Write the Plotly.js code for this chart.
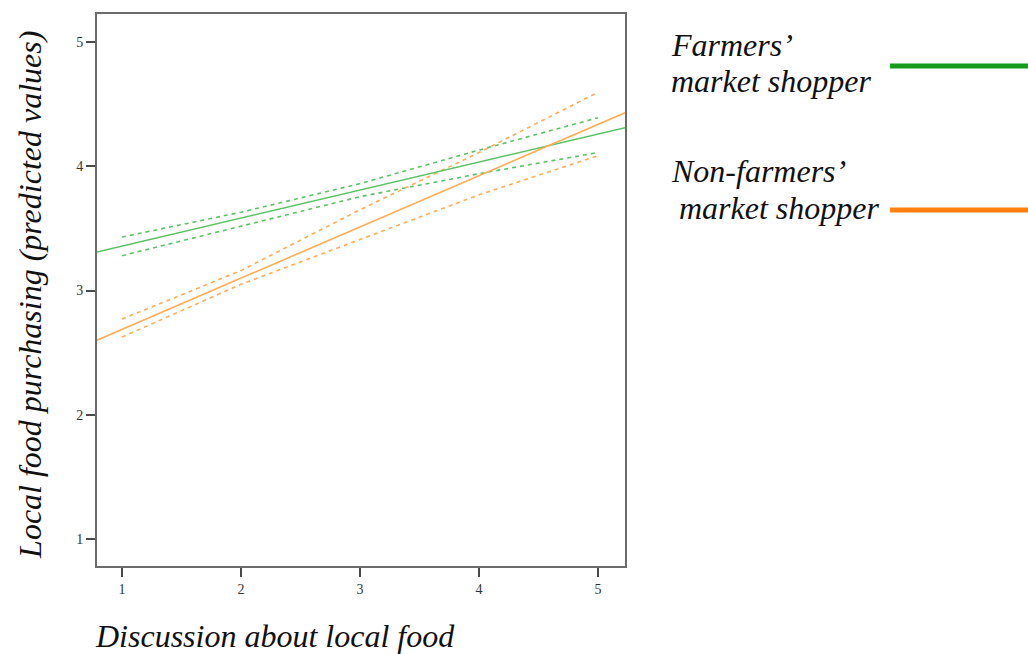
<!DOCTYPE html>
<html>
<head>
<meta charset="utf-8">
<script src="https://cdn.plot.ly/plotly-3.0.1.min.js"></script>
<style>html,body{margin:0;padding:0;background:#fff;}#chart{width:1028px;height:654px;}</style>
</head>
<body>
<div id="chart"></div>
<script>
// Data
const discussion = [1, 2, 3, 4, 5];
const fitRangeX = [0.79, 5.227];
const farmersFit = [3.31, 4.31];
const nonFarmersFit = [2.60, 4.43];
const farmersUpper = [3.43, 3.63, 3.86, 4.13, 4.39];
const farmersLower = [3.28, 3.52, 3.755, 3.94, 4.11];
const nonFarmersUpper = [2.77, 3.16, 3.65, 4.11, 4.595];
const nonFarmersLower = [2.625, 3.05, 3.41, 3.77, 4.085];
const xTicks = [1, 2, 3, 4, 5];
const yTicks = [1, 2, 3, 4, 5];
const farmersLabel = ["Farmers’", "market shopper"];
const nonFarmersLabel = ["Non-farmers’", " market shopper"];
const xTitle = "Discussion about local food";
const yTitle = "Local food purchasing (predicted values)";

const green = "#5cc267";
const orange = "#ffad55";
const greenLegend = "#169a1b";
const orangeLegend = "#ff800d";
const serif = "'Times New Roman', 'Liberation Serif', Times, serif";
const bigFont = {family: serif, size: 32, color: "#111", style: "italic"};

const traces = [
  {x: discussion, y: farmersUpper, mode: "lines", line: {color: green, width: 1.6, dash: "4px,4px"}},
  {x: discussion, y: farmersLower, mode: "lines", line: {color: green, width: 1.6, dash: "4px,4px"}},
  {x: discussion, y: nonFarmersUpper, mode: "lines", line: {color: orange, width: 1.6, dash: "4px,4px"}},
  {x: discussion, y: nonFarmersLower, mode: "lines", line: {color: orange, width: 1.6, dash: "4px,4px"}},
  {x: fitRangeX, y: farmersFit, mode: "lines", line: {color: green, width: 1.6}},
  {x: fitRangeX, y: nonFarmersFit, mode: "lines", line: {color: orange, width: 1.6}}
];

const axisCommon = {
  showgrid: false, zeroline: false, showline: true, mirror: true,
  linecolor: "#6b6b6b", linewidth: 2,
  ticks: "outside", ticklen: 9, tickwidth: 2, tickcolor: "#4a4a4a",
  tickfont: {family: serif, size: 14, color: "#333"}
};

function label(text, x, y) {
  return {text: text.replace(/^ /, "&nbsp;"), xref: "paper", yref: "paper", x: x, xanchor: "left",
          y: y, yanchor: "middle", align: "left", showarrow: false, font: bigFont};
}

const layout = {
  width: 1028, height: 654,
  margin: {l: 97, r: 403, t: 14, b: 88},
  paper_bgcolor: "#fff", plot_bgcolor: "#fff",
  showlegend: false,
  xaxis: Object.assign({}, axisCommon, {range: [0.79, 5.227], tickvals: xTicks, ticktext: xTicks.map(String)}),
  yaxis: Object.assign({}, axisCommon, {range: [0.783, 5.225], tickvals: yTicks, ticktext: yTicks.map(String)}),
  annotations: [
    label(xTitle, -0.008, -0.127),
    {text: yTitle, xref: "paper", yref: "paper", x: -0.127, xanchor: "center", y: 0.491, yanchor: "middle",
     textangle: -90, showarrow: false, font: bigFont},
    label(farmersLabel[0], 1.083, 0.944),
    label(farmersLabel[1], 1.083, 0.878),
    label(nonFarmersLabel[0], 1.083, 0.716),
    label(nonFarmersLabel[1], 1.083, 0.648)
  ],
  shapes: [
    {type: "line", xref: "paper", yref: "paper", x0: 1.502, x1: 1.78, y0: 0.9058, y1: 0.9058, line: {color: greenLegend, width: 5}},
    {type: "line", xref: "paper", yref: "paper", x0: 1.502, x1: 1.78, y0: 0.6449, y1: 0.6449, line: {color: orangeLegend, width: 5}}
  ]
};

Plotly.newPlot("chart", traces, layout, {displayModeBar: false, staticPlot: true});
</script>
</body>
</html>
